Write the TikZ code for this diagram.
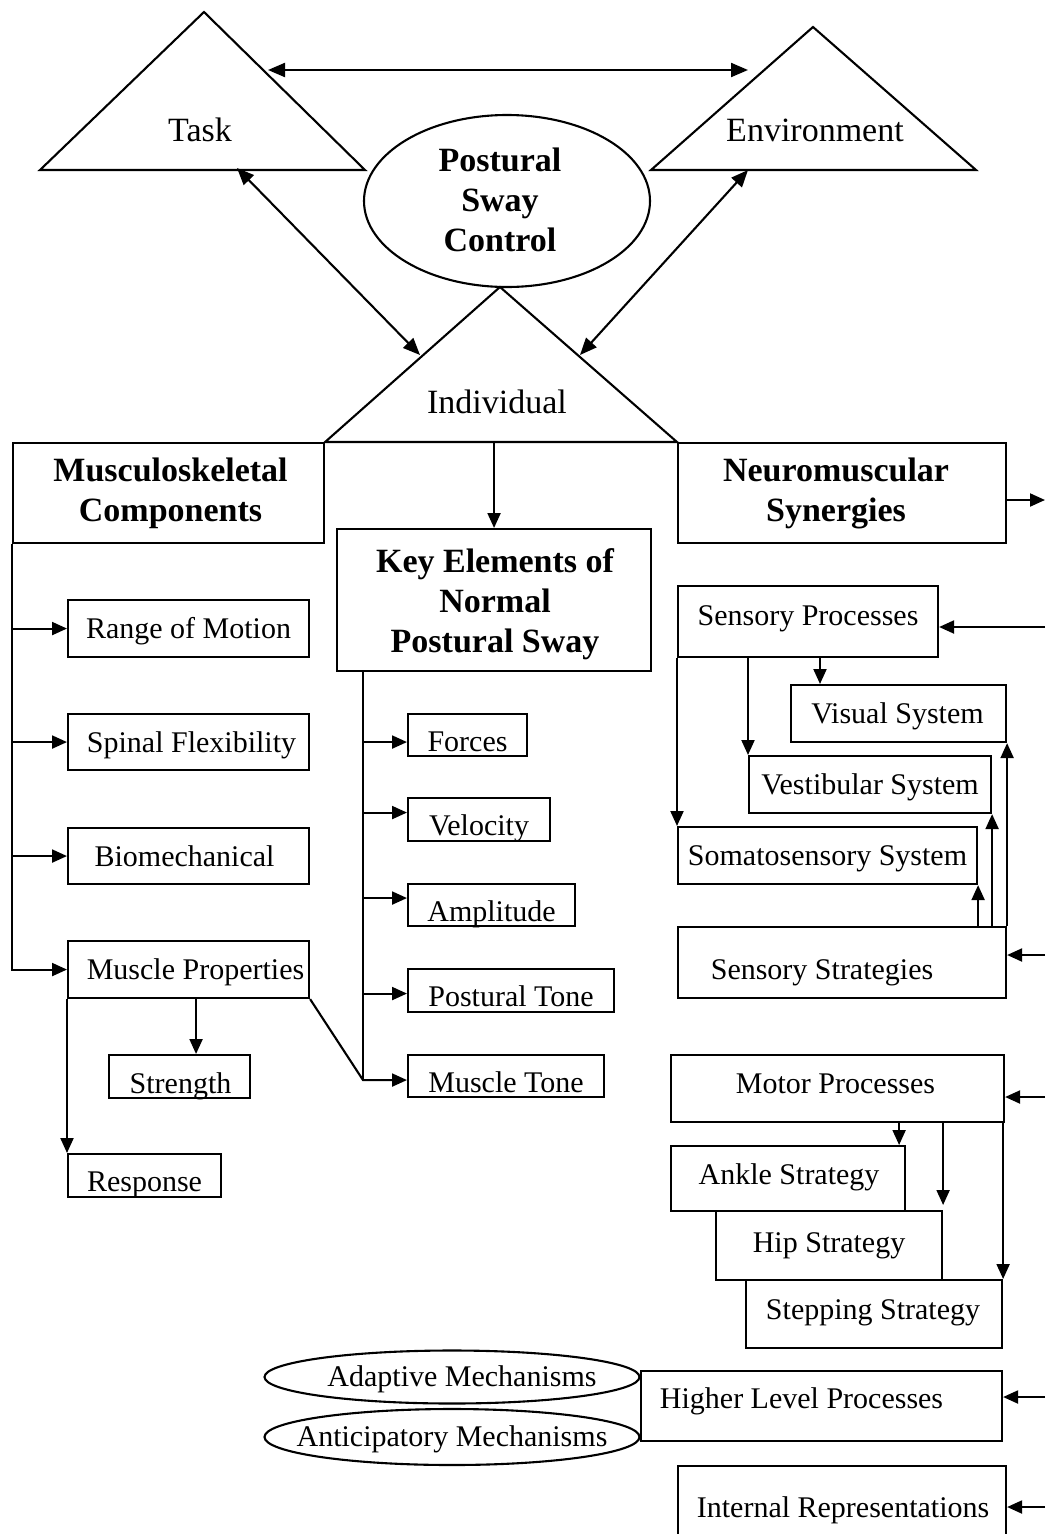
\documentclass[tikz,border=0pt]{standalone}
\usepackage{fontspec}
\setmainfont{Liberation Serif}
\usetikzlibrary{arrows.meta,shapes.geometric}
\newcommand\lbl[3]{\raisebox{-#2pt}[0pt][0pt]{\makebox[0pt]{\hspace*{#1pt}#3\hspace*{-#1pt}}}}
\newcommand\stk[1]{\begin{tabular}[t]{@{}c@{}}#1\end{tabular}}
\begin{document}
\begin{tikzpicture}[x=1pt,y=-1pt,
  line width=2.1pt,
  every node/.style={inner sep=0pt},
  box/.style={draw, anchor=north west, font=\fontsize{30}{36}\selectfont},
  hbox/.style={draw, anchor=north west, font=\fontsize{34}{40}\selectfont\bfseries},
  oval/.style={draw, ellipse, font=\fontsize{30}{36}\selectfont},
  tlabel/.style={font=\fontsize{34}{40}\selectfont},
  arr/.style={-{Triangle[length=15pt,width=13pt]}},
  darr/.style={{Triangle[length=17pt,width=14pt]}-{Triangle[length=17pt,width=14pt]}}
]
\useasboundingbox (0,0) rectangle (1045,1534);

% ---- triangles ----
\coordinate (tA) at (204,12); \coordinate (tB) at (40,170); \coordinate (tC) at (365,170);
\draw (tA) -- (tB) -- (tC) -- cycle;
\node[tlabel] (task) at (200,130) {\lbl{0}{11}{Task}};

\coordinate (eA) at (813,27); \coordinate (eB) at (651,170); \coordinate (eC) at (976,170);
\draw (eA) -- (eB) -- (eC) -- cycle;
\node[tlabel] (env) at (815,130) {\lbl{0}{11}{Environment}};

\node[draw, ellipse, minimum width=286pt, minimum height=172pt,
      font=\fontsize{34}{40}\selectfont\bfseries] (psc) at (507,201)
      {\lbl{-7}{-30}{\stk{Postural\\Sway\\Control}}};

% ---- top boxes ----
\node[hbox, minimum width=311pt, minimum height=100pt] (ms) at (12,442) {\lbl{2}{-12}{\stk{Musculoskeletal\\Components}}};
\node[hbox, minimum width=328pt, minimum height=100pt] (nm) at (677,442) {\lbl{-6}{-12}{\stk{Neuromuscular\\Synergies}}};
\node[hbox, minimum width=314pt, minimum height=142pt] (ke) at (336,528) {\lbl{1}{-28}{\stk{Key Elements of\\Normal\\Postural Sway}}};

\coordinate (iA) at (500,287);
\draw (ms.north east) -- (iA) -- (nm.north west) -- cycle;
\node[tlabel] (ind) at (497,402) {\lbl{0}{11}{Individual}};

% ---- triangle arrows ----
\coordinate (ta1) at (268,70); \coordinate (ea1) at (748,70);
\draw[darr] (ta1) -- (ea1);
\coordinate (ta2) at (237,168); \coordinate (ia1) at (420,355);
\draw[darr] (ta2) -- (ia1);
\coordinate (ea2) at (748,170); \coordinate (ia2) at (580,355);
\draw[darr] (ea2) -- (ia2);

\draw[arr] (ke.north |- ms.north) -- (ke.north);

% ---- left column ----
\node[box, minimum width=241pt, minimum height=57pt] (rom) at (67,599) {\lbl{0}{10}{Range of Motion}};
\node[box, minimum width=241pt, minimum height=56pt] (sf) at (67,713) {\lbl{3}{10}{Spinal Flexibility}};
\node[box, minimum width=241pt, minimum height=56pt] (bio) at (67,827) {\lbl{-4}{10}{Biomechanical}};
\node[box, minimum width=241pt, minimum height=57pt] (mp) at (67,940) {\lbl{7}{10}{Muscle Properties}};
\node[box, minimum width=141pt, minimum height=43pt] (st) at (108,1054) {\lbl{1}{17}{Strength}};
\node[box, minimum width=153pt, minimum height=43pt] (resp) at (67,1153) {\lbl{0}{16}{Response}};

\draw[arr] (ms.south west) |- (mp.west);
\draw[arr] (ms.south west |- rom.west) -- (rom.west);
\draw[arr] (ms.south west |- sf.west) -- (sf.west);
\draw[arr] (ms.south west |- bio.west) -- (bio.west);
\coordinate (stA) at ([xshift=16.5pt]st.north);
\draw[arr] (stA |- mp.south) -- (stA);
\draw[arr] (mp.south west) -- (resp.north west);

% ---- middle column ----
\node[box, minimum width=119pt, minimum height=42pt] (fo) at (407,713) {\lbl{0}{16}{Forces}};
\node[box, minimum width=142pt, minimum height=43pt] (ve) at (407,797) {\lbl{0}{16}{Velocity}};
\node[box, minimum width=167pt, minimum height=42pt] (am) at (407,883) {\lbl{0}{16}{Amplitude}};
\node[box, minimum width=206pt, minimum height=43pt] (pt) at (407,968) {\lbl{0}{16}{Postural Tone}};
\node[box, minimum width=196pt, minimum height=42pt] (mt) at (407,1054) {\lbl{0}{16}{Muscle Tone}};

\coordinate (kb) at ([xshift=27pt]ke.south west);
\coordinate (foA) at ([yshift=-7pt]fo.west);
\coordinate (veA) at ([yshift=7pt]ve.west);
\coordinate (amA) at ([yshift=7pt]am.west);
\coordinate (ptA) at ([yshift=-3pt]pt.west);
\coordinate (mtA) at ([yshift=-4pt]mt.west);
\draw (kb) -- (kb |- mtA);
\draw[arr] (kb |- foA) -- (foA);
\draw[arr] (kb |- veA) -- (veA);
\draw[arr] (kb |- amA) -- (amA);
\draw[arr] (kb |- ptA) -- (ptA);
\draw[arr] (mp.south east) -- (kb |- mtA) -- (mtA);

% ---- right column: sensory ----
\node[box, minimum width=260pt, minimum height=71pt] (sp) at (677,585) {\lbl{0}{4}{Sensory Processes}};
\node[box, minimum width=215pt, minimum height=57pt] (vis) at (790,684) {\lbl{-1}{10}{Visual System}};
\node[box, minimum width=242pt, minimum height=57pt] (vest) at (748,755) {\lbl{0}{10}{Vestibular System}};
\node[box, minimum width=299pt, minimum height=57pt] (soma) at (677,826) {\lbl{0}{10}{Somatosensory System}};
\node[box, minimum width=328pt, minimum height=71pt] (ss) at (677,926) {\lbl{-20}{17}{Sensory Strategies}};

\coordinate (visA) at ([xshift=30pt]vis.north west);
\draw[arr] (visA |- sp.south) -- (visA);
\draw[arr] (vest.north west |- sp.south) -- (vest.north west);
\draw[arr] (sp.south west) -- (soma.north west);
\draw[arr] (soma.south east |- ss.north) -- (soma.south east);
\draw[arr] (vest.south east |- ss.north) -- (vest.south east);
\draw[arr] (ss.north east) -- (vis.south east);

% ---- right column: motor ----
\node[box, minimum width=333pt, minimum height=67pt] (mot) at (670,1054) {\lbl{-2}{5}{Motor Processes}};
\node[box, minimum width=234pt, minimum height=65pt] (ank) at (670,1145) {\lbl{1}{6}{Ankle Strategy}};
\node[box, minimum width=226pt, minimum height=69pt] (hip) at (715,1210) {\lbl{0}{7}{Hip Strategy}};
\node[box, minimum width=256pt, minimum height=68pt] (stp) at (745,1279) {\lbl{-1}{5}{Stepping Strategy}};

\coordinate (ankA) at ([xshift=-7pt]ank.north east);
\coordinate (hipA) at ([yshift=5pt]hip.north east);
\draw[arr] (ankA |- mot.south) -- (ankA);
\draw[arr] (hipA |- mot.south) -- (hipA);
\draw[arr] (stp.north east |- mot.south) -- (stp.north east);

% ---- higher level ----
\node[box, minimum width=361pt, minimum height=70pt] (hlp) at (640,1370) {\lbl{-20}{2}{Higher Level Processes}};
\node[oval, minimum width=375pt, minimum height=53pt] (adm) at (452,1377) {\lbl{10}{9}{Adaptive Mechanisms}};
\node[oval, minimum width=375pt, minimum height=56pt] (anm) at (452,1437) {\lbl{0}{9}{Anticipatory Mechanisms}};
\node[box, minimum width=328pt, minimum height=95pt] (ir) at (677,1465) {\lbl{1}{4}{Internal Representations}};

% ---- arrows from the right edge ----
\coordinate (rout) at (1045,500);
\draw[arr] (rout -| nm.east) -- (rout);
\coordinate (rin1) at (1045,627);
\draw[arr] (rin1) -- (rin1 -| sp.east);
\coordinate (rin2) at (1045,955);
\draw[arr] (rin2) -- (rin2 -| ss.east);
\coordinate (rin3) at (1045,1097);
\draw[arr] (rin3) -- (rin3 -| mot.east);
\coordinate (rin4) at (1045,1397);
\draw[arr] (rin4) -- (rin4 -| hlp.east);
\coordinate (rin5) at (1045,1507);
\draw[arr] (rin5) -- (rin5 -| ir.east);
\end{tikzpicture}
\end{document}
